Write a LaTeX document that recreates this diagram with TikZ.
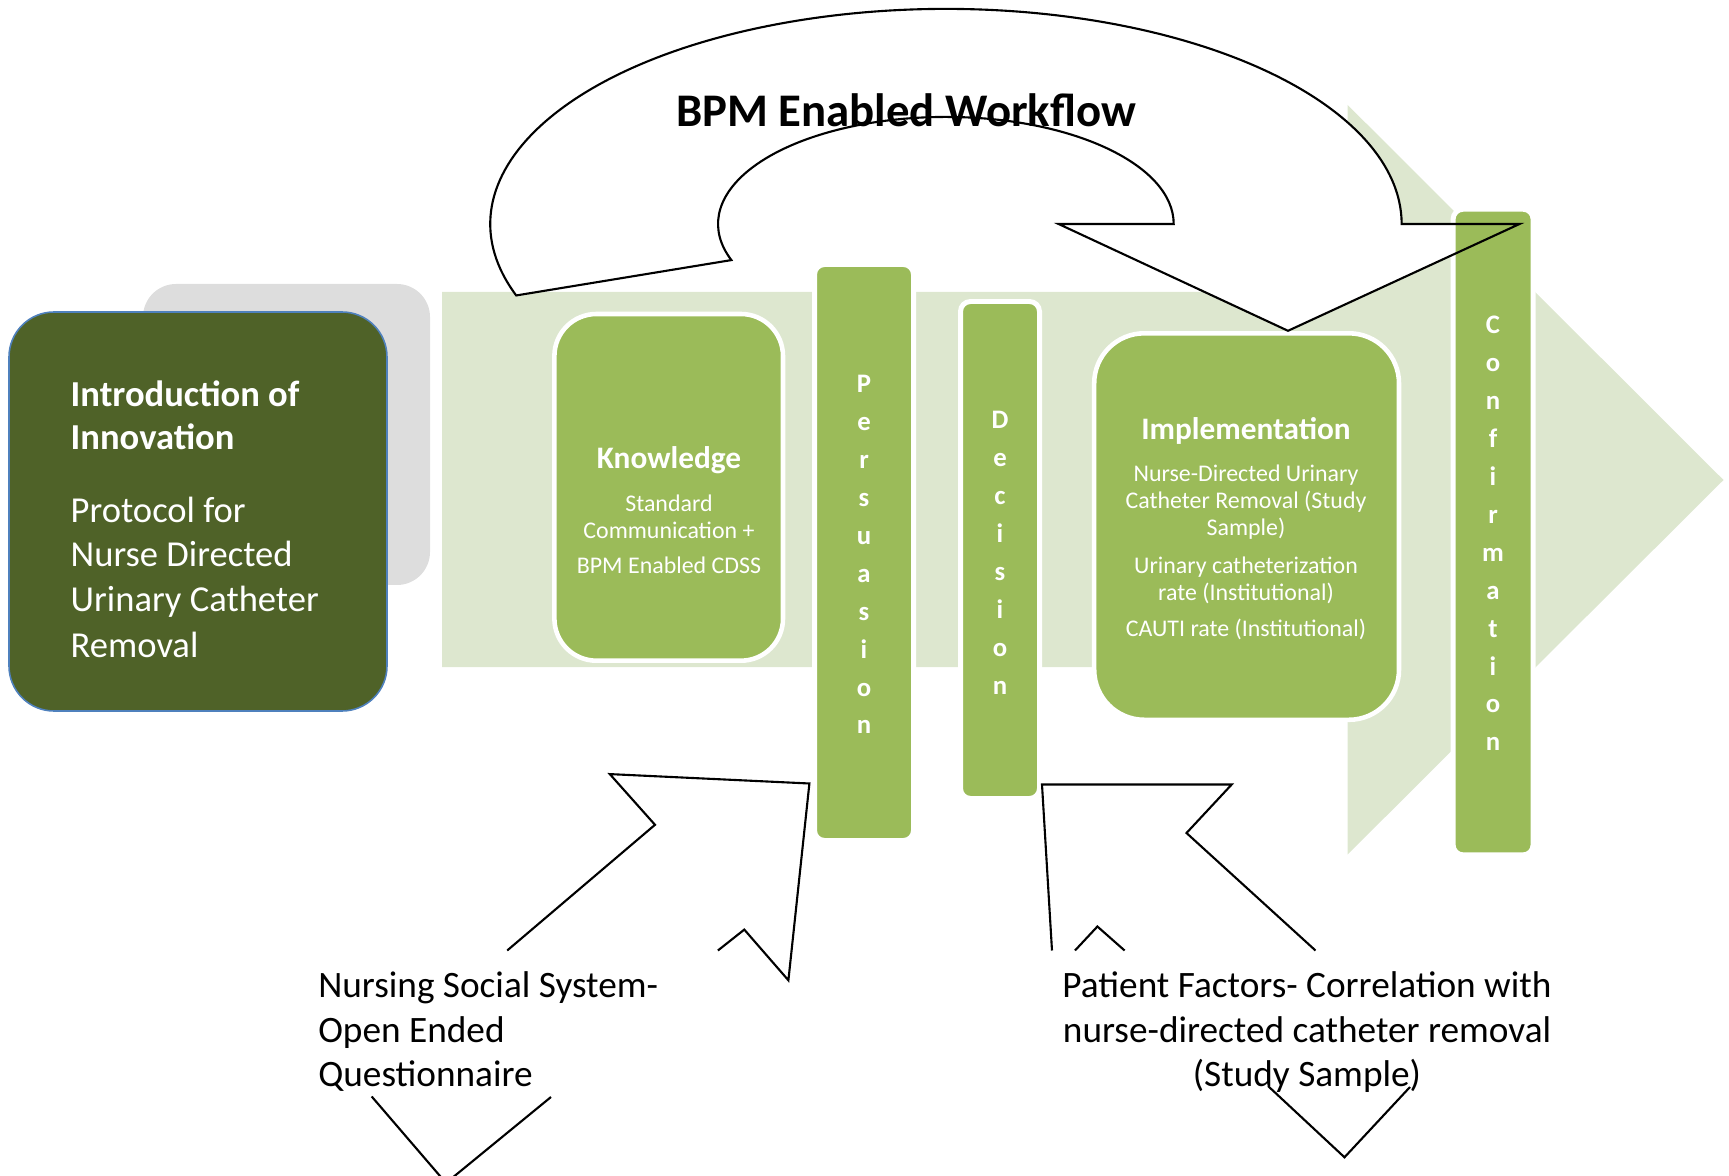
\documentclass[tikz,border=0pt]{standalone}
\usepackage{fontspec}
\setmainfont{Carlito}
\definecolor{bandgreen}{HTML}{DDE7CF}
\definecolor{midgreen}{HTML}{9BBB59}
\definecolor{darkgreen}{HTML}{4F6228}
\definecolor{graybox}{HTML}{DDDDDD}
\definecolor{borderblue}{HTML}{4F81BD}
\begin{document}
\begin{tikzpicture}[x=0.01cm,y=0.01cm,
  outline/.style={draw=black,line width=0.6pt},
  boxwhite/.style={fill=midgreen,draw=white,line width=1.3pt},
  barwhite/.style={fill=midgreen,draw=white,line width=1.42pt,rounded corners=0.1cm},
  introb/.style={font=\fontsize{10.4}{12.5}\selectfont\bfseries,text=white,inner sep=0pt},
  intror/.style={font=\fontsize{10.4}{12.5}\selectfont,text=white,inner sep=0pt},
  headb/.style={font=\fontsize{8.9}{10.5}\selectfont\bfseries,text=white,inner sep=0pt},
  smallw/.style={font=\fontsize{6.8}{8}\selectfont,text=white,inner sep=0pt},
  vlet/.style={font=\fontsize{7.6}{9}\selectfont\bfseries,text=white,inner sep=0pt},
  titlefont/.style={font=\fontsize{13.3}{16}\selectfont\bfseries,text=black,inner sep=0pt},
  lab/.style={font=\fontsize{10.6}{12.8}\selectfont,text=black,inner sep=0pt}]
\useasboundingbox (0,0) rectangle (1729,-1176);

% background process arrow
\fill[bandgreen] (442,-292) -- (1347.5,-292) -- (1347.5,-104.8) -- (1723.5,-480)
  -- (1347.5,-854.6) -- (1347.5,-667) -- (442,-667) -- cycle;

% introduction boxes
\fill[graybox,rounded corners=0.33cm] (143,-284) rectangle (430,-585);
\draw[fill=darkgreen,draw=borderblue,line width=0.45pt,rounded corners=0.45cm] (9,-312) rectangle (387,-711);

% big curved arrow: fill
\coordinate (c) at (946,-224);
\path (c) ++(199.4:4.554cm and 2.15cm) coordinate (o1);
\coordinate (o2) at (1401.4,-224);
\coordinate (h1) at (1519.5,-224);
\coordinate (h2) at (1288,-330.8);
\coordinate (h3) at (1058.6,-224);
\coordinate (i1) at (1173.7,-224);
\fill[white] (o1) arc[start angle=199.4,end angle=0,x radius=4.554cm,y radius=2.15cm]
  -- (h1) -- (h2) -- (h3) -- (i1)
  arc[start angle=0,end angle=199.7,x radius=2.277cm,y radius=1.07cm] -- cycle;

% stage boxes
\draw[boxwhite,rounded corners=0.42cm] (554.4,-314) rectangle (783,-660.7);
\draw[barwhite] (814.5,-264.5) rectangle (913.5,-840.5);
\draw[barwhite] (960.5,-301.5) rectangle (1039.5,-798.5);
\draw[boxwhite,rounded corners=0.5cm] (1094.2,-333.3) rectangle (1399,-719.8);
\draw[barwhite] (1453.1,-209.2) rectangle (1533.1,-854.9);

% big curved arrow: outline
\draw[outline] (o1) arc[start angle=199.4,end angle=0,x radius=4.554cm,y radius=2.15cm]
  -- (h1) -- (h2) -- (h3) -- (i1)
  arc[start angle=0,end angle=199.7,x radius=2.277cm,y radius=1.07cm] -- cycle;

% title
\node[titlefont,anchor=base] (title) at (906,-127) {BPM Enabled Workflow};

% introduction text
\node[introb,anchor=base west] (in1) at (70,-407) {Introduction of};
\node[introb,anchor=base west] (in2) at (70,-450) {Innovation};
\node[intror,anchor=base west] (in3) at (70,-522) {Protocol for};
\node[intror,anchor=base west] (in4) at (70,-567) {Nurse Directed};
\node[intror,anchor=base west] (in5) at (70,-612) {Urinary Catheter};
\node[intror,anchor=base west] (in6) at (70,-657) {Removal};

% knowledge text
\node[headb,anchor=base] (kn1) at (669,-468.6) {Knowledge};
\node[smallw,anchor=base] (kn2) at (669,-511.6) {Standard};
\node[smallw,anchor=base] (kn3) at (669,-538.1) {Communication +};
\node[smallw,anchor=base] (kn4) at (669,-573.4) {BPM Enabled CDSS};

% implementation text
\node[headb,anchor=base] (im1) at (1246,-440) {Implementation};
\node[smallw,anchor=base] (im2) at (1246,-481.9) {Nurse-Directed Urinary};
\node[smallw,anchor=base] (im3) at (1246,-508.9) {Catheter Removal (Study};
\node[smallw,anchor=base] (im4) at (1246,-535.9) {Sample)};
\node[smallw,anchor=base] (im5) at (1246,-573.4) {Urinary catheterization};
\node[smallw,anchor=base] (im6) at (1246,-600.4) {rate (Institutional)};
\node[smallw,anchor=base] (im7) at (1246,-636.8) {CAUTI rate (Institutional)};

% stacked letters
\foreach \l [count=\i from 0] in {P,e,r,s,u,a,s,i,o,n}
  \node[vlet,anchor=base] (pe\i) at (864,{-392.6-37.93*\i}) {\l};
\foreach \l [count=\i from 0] in {D,e,c,i,s,i,o,n}
  \node[vlet,anchor=base] (de\i) at (1000,{-429-37.93*\i}) {\l};
\foreach \l [count=\i from 0] in {C,o,n,f,i,r,m,a,t,i,o,n}
  \node[vlet,anchor=base] (co\i) at (1493,{-334-37.89*\i}) {\l};

% lower left arrow (visible parts)
\coordinate (la1) at (507.2,-950.5);
\coordinate (la2) at (655,-824.8);
\coordinate (la3) at (609.8,-774.1);
\coordinate (la4) at (809.4,-783.5);
\coordinate (la5) at (788.4,-980.3);
\coordinate (la6) at (744.3,-929.6);
\coordinate (la7) at (717.9,-950.5);
\draw[outline] (la1) -- (la2) -- (la3) -- (la4) -- (la5) -- (la6) -- (la7);
\begin{scope}
\clip (0,0) rectangle (1729,-1176);
\coordinate (lv1) at (371.7,-1096.5);
\coordinate (lv2) at (446,-1183);
\coordinate (lv3) at (551,-1097);
\draw[outline] (lv1) -- (lv2) -- (lv3);
\end{scope}

% lower right arrow (visible parts)
\coordinate (ra1) at (1052,-950.5);
\coordinate (ra2) at (1042,-784.5);
\coordinate (ra3) at (1231.7,-784.5);
\coordinate (ra4) at (1186.5,-833);
\coordinate (ra5) at (1315.5,-950.5);
\draw[outline] (ra1) -- (ra2) -- (ra3) -- (ra4) -- (ra5);
\coordinate (rn1) at (1075,-950.5);
\coordinate (rn2) at (1097.4,-926.5);
\coordinate (rn3) at (1124.6,-950.5);
\draw[outline] (rn1) -- (rn2) -- (rn3);
\coordinate (rv1) at (1268,-1086);
\coordinate (rv2) at (1344.5,-1157.3);
\coordinate (rv3) at (1410,-1087);
\draw[outline] (rv1) -- (rv2) -- (rv3);

% bottom labels
\node[lab,anchor=base west] (ns1) at (317.6,-997) {Nursing Social System-};
\node[lab,anchor=base west] (ns2) at (317.6,-1042) {Open Ended};
\node[lab,anchor=base west] (ns3) at (317.6,-1086) {Questionnaire};
\node[lab,anchor=base] (pf1) at (1307,-997) {Patient Factors- Correlation with};
\node[lab,anchor=base] (pf2) at (1307,-1042) {nurse-directed catheter removal};
\node[lab,anchor=base] (pf3) at (1307,-1086) {(Study Sample)};
\end{tikzpicture}
\end{document}
